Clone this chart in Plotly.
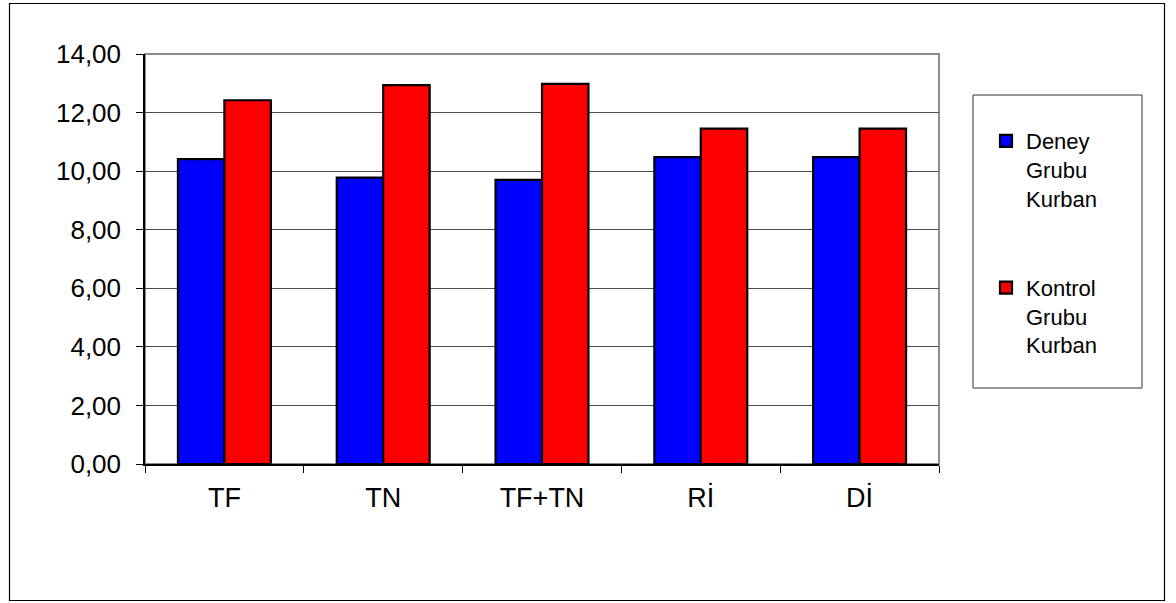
import plotly.graph_objects as go

categories = ["TF", "TN", "TF+TN", "Rİ", "Dİ"]
deney = [10.41, 9.78, 9.70, 10.48, 10.48]
kontrol = [12.42, 12.94, 12.98, 11.45, 11.45]
series_names = ["Deney<br>Grubu<br>Kurban", "Kontrol<br>Grubu<br>Kurban"]
y_ticks = [0, 2, 4, 6, 8, 10, 12, 14]

W, H = 1176, 603
L, R, T, B = 145, 939, 54, 464
pw, ph = R - L, B - T

def px(x):
    return (x - L) / pw

def py(y):
    return (B - y) / ph

FONT = "Liberation Sans, Arial, sans-serif"

fig = go.Figure()
fig.add_trace(go.Bar(x=categories, y=deney, name=series_names[0], legendgroup="a",
                     marker=dict(color="#0000FF", line=dict(color="black", width=2.2))))
fig.add_trace(go.Bar(x=categories, y=kontrol, name=series_names[1], legendgroup="b",
                     marker=dict(color="#FF0000", line=dict(color="black", width=2.2))))

shapes = [
    dict(type="rect", xref="paper", yref="paper", x0=px(9.5), x1=px(1164.5), y0=py(600.5), y1=py(3.5),
         line=dict(color="black", width=1.2), fillcolor="rgba(0,0,0,0)", layer="below"),
    dict(type="rect", xref="paper", yref="paper", x0=0, x1=1, y0=0, y1=1,
         line=dict(color="#8c8c8c", width=2), fillcolor="rgba(0,0,0,0)", layer="below"),
    dict(type="rect", xref="paper", yref="paper", x0=px(973), x1=px(1142), y0=py(388), y1=py(95),
         line=dict(color="#333333", width=1), fillcolor="white", layer="below"),
]

fig.update_layout(
    width=W, height=H,
    margin=dict(l=L, r=W - R, t=T, b=H - B, pad=0),
    paper_bgcolor="white", plot_bgcolor="white",
    barmode="group", bargap=0.415, bargroupgap=0,
    separators=",.",
    font=dict(family=FONT, color="black", size=26),
    shapes=shapes,
    showlegend=True,
    legend=dict(x=px(986), y=py(120), xanchor="left", yanchor="top",
                traceorder="grouped", tracegroupgap=58, valign="top",
                font=dict(family=FONT, size=22, color="black"),
                bgcolor="rgba(0,0,0,0)", borderwidth=0, itemwidth=30),
)
fig.update_xaxes(
    showgrid=False, showline=True, linecolor="black", linewidth=1.5,
    ticks="outside", tickson="boundaries", ticklen=7, tickcolor="black", tickwidth=1.2,
    tickfont=dict(size=27), ticklabelstandoff=9,
)
fig.update_yaxes(
    range=[0, 14], tickvals=y_ticks, tickformat=".2f",
    showgrid=True, gridcolor="#4d4d4d", gridwidth=1.2,
    showline=True, linecolor="black", linewidth=1.5,
    ticks="outside", ticklen=7, tickcolor="black", tickwidth=1.2,
    tickfont=dict(size=26), ticklabelstandoff=10, zeroline=False,
)

fig.write_html("out.html")
